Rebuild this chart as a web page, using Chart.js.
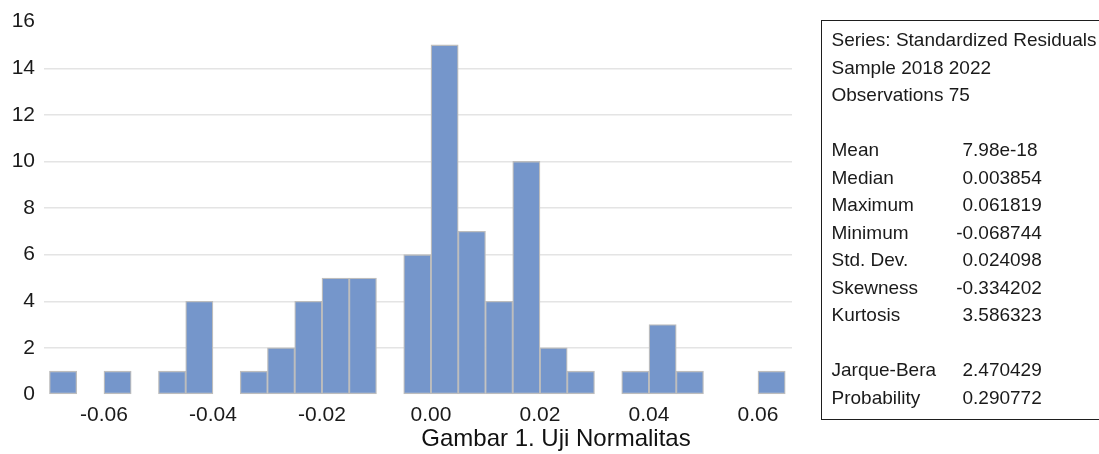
<!DOCTYPE html>
<html>
<head>
<meta charset="utf-8">
<script src="https://cdn.jsdelivr.net/npm/chart.js@4.4.1/dist/chart.umd.min.js"></script>
<style>
  html, body { margin: 0; padding: 0; background: #fff; overflow: hidden; }
  #wrap { position: relative; width: 1099px; height: 454px; }
  #stats {
    position: absolute; left: 821px; top: 20px; width: 300px; height: 400px;
    box-sizing: border-box; border: 1.5px solid #1e1e1e;
    padding: 5px 0 0 9.5px;
    font-family: "Liberation Sans", Arial, sans-serif; font-size: 19px; color: #1a1a1a;
    line-height: 27.5px; white-space: nowrap;
  }
  #stats .row { height: 27.5px; }
  #stats .lab { display: inline-block; width: 131px; }
  #stats .neg { margin-left: -0.333em; }
</style>
</head>
<body>
<div id="wrap">
  <canvas id="hist" width="1099" height="454"></canvas>
  <div id="stats"></div>
</div>
<script>
// histogram bins (left edges), width 0.005
const binStarts = [-0.070, -0.065, -0.060, -0.055, -0.050, -0.045, -0.040, -0.035, -0.030,
  -0.025, -0.020, -0.015, -0.010, -0.005, 0.000, 0.005, 0.010, 0.015, 0.020, 0.025,
  0.030, 0.035, 0.040, 0.045, 0.050, 0.055, 0.060];
const counts = [1, 0, 1, 0, 1, 4, 0, 1, 2, 4, 5, 5, 0, 6, 15, 7, 4, 10, 2, 1, 0, 1, 3, 1, 0, 0, 1];
const binWidth = 0.005;
const xTicks = [-0.06, -0.04, -0.02, 0.00, 0.02, 0.04, 0.06];

const headerLines = ["Series: Standardized Residuals", "Sample 2018 2022", "Observations 75"];
const statNames = ["Mean", "Median", "Maximum", "Minimum", "Std. Dev.", "Skewness", "Kurtosis"];
const statValues = ["7.98e-18", "0.003854", "0.061819", "-0.068744", "0.024098", "-0.334202", "3.586323"];
const testNames = ["Jarque-Bera", "Probability"];
const testValues = ["2.470429", "0.290772"];

const caption = "Gambar 1. Uji Normalitas";

// stats box
const box = document.getElementById("stats");
function addRow(lab, val) {
  const r = document.createElement("div");
  r.className = "row";
  if (val === undefined) {
    r.textContent = lab;
  } else {
    const a = document.createElement("span");
    a.className = "lab";
    a.textContent = lab;
    const b = document.createElement("span");
    b.textContent = val;
    if (val.charAt(0) === "-") b.className = "neg";
    r.appendChild(a);
    r.appendChild(b);
  }
  box.appendChild(r);
}
headerLines.forEach(t => addRow(t));
addRow("");
statNames.forEach((n, i) => addRow(n, statValues[i]));
addRow("");
testNames.forEach((n, i) => addRow(n, testValues[i]));

const points = binStarts.map((s, i) => ({ x: s + binWidth / 2, y: counts[i] }));

const font = "'Liberation Sans', Arial, sans-serif";

new Chart(document.getElementById("hist"), {
  type: "bar",
  data: {
    datasets: [{
      data: points,
      backgroundColor: "#7596cb",
      borderColor: "#bdbdbd",
      borderWidth: 1.3,
      borderSkipped: false,
      barPercentage: 1,
      categoryPercentage: 1
    }]
  },
  options: {
    responsive: false,
    animation: false,
    devicePixelRatio: 1,
    layout: { padding: { left: 13, top: 21, right: 0, bottom: 0 } },
    plugins: {
      legend: { display: false },
      tooltip: { enabled: false },
      title: {
        display: true,
        position: "bottom",
        text: caption,
        color: "#111",
        font: { family: font, size: 24, weight: "normal" },
        padding: { top: 0, bottom: 0 }
      }
    },
    scales: {
      x: {
        type: "linear",
        offset: false,
        min: -0.0710,
        max: 0.06624,
        grid: { display: false, drawTicks: false },
        border: { display: false },
        afterBuildTicks: (s) => { s.ticks = xTicks.map(v => ({ value: v })); },
        afterFit: (s) => { s.height = 30.7; },
        ticks: {
          padding: 8.5,
          color: "#1a1a1a",
          font: { family: font, size: 21 },
          maxRotation: 0,
          autoSkip: false,
          callback: (v) => Number(v).toFixed(2)
        }
      },
      y: {
        min: 0,
        max: 16,
        border: { display: false },
        grid: {
          drawTicks: false,
          lineWidth: 1.4,
          color: (c) => (c.tick && (c.tick.value === 0 || c.tick.value === 16)) ? "rgba(0,0,0,0)" : "#e4e4e4"
        },
        afterFit: (s) => { s.width = 31; },
        ticks: {
          stepSize: 2,
          padding: 9,
          color: "#1a1a1a",
          font: { family: font, size: 21 }
        }
      },
      pad: {
        type: "linear",
        position: "right",
        display: true,
        grid: { display: false },
        border: { display: false },
        ticks: { display: false },
        afterFit: (s) => { s.width = 307; }
      }
    }
  }
});
</script>
</body>
</html>
